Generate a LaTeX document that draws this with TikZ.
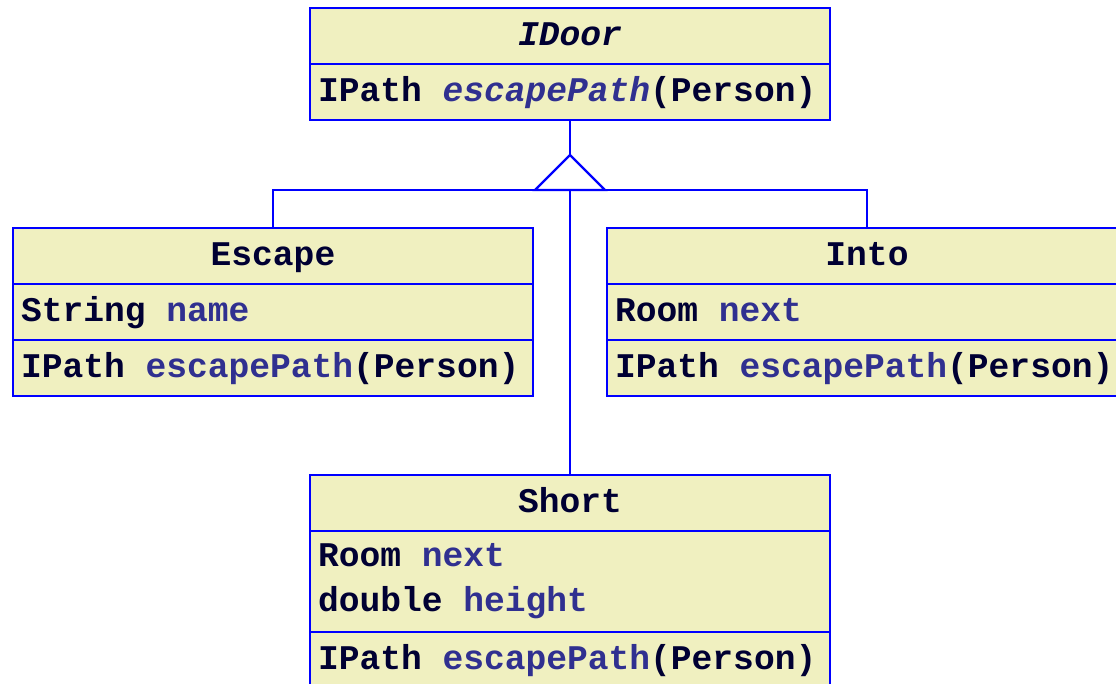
\documentclass[tikz,border=0pt]{standalone}
\usepackage{fontspec}
\setmonofont{Liberation Mono}
\usetikzlibrary{positioning}
\definecolor{umlline}{HTML}{0000FF}
\definecolor{umlfill}{HTML}{F0F0C0}
\definecolor{umltext}{HTML}{000033}
\definecolor{umlname}{HTML}{303090}
\protected\def\umlfont{\ttfamily\bfseries\fontsize{17.3}{22.5}\selectfont\spaceskip=0.6em\relax}
\newcommand{\member}[2]{#1 \textcolor{umlname}{#2}}
\begin{document}
\begin{tikzpicture}[x=0.5pt,y=-0.5pt,
  umlrow/.style={draw=umlline, fill=umlfill, line width=1.2pt, outer sep=0pt,
    minimum height=28pt, text width=252pt, inner xsep=4pt, inner ysep=0pt,
    align=flush left, text=umltext, font=\umlfont},
  classrow/.style={umlrow, text height=13pt, text depth=3pt},
  classname/.style={classrow, align=flush center},
  umledge/.style={draw=umlline, line width=1.1pt}]

  \clip (0,0) rectangle (1116,684);

  % interface
  \node[classname, anchor=north west] (idoor) at (310,8) {\itshape IDoor};
  \node[classrow, below=0pt of idoor] (idoorops) {IPath \textcolor{umlname}{\itshape escapePath}(Person)};

  % Escape
  \node[classname, anchor=north west] (escape) at (13,228) {Escape};
  \node[classrow, below=0pt of escape] (escapeattr) {\member{String}{name}};
  \node[classrow, below=0pt of escapeattr] (escapeops) {\member{IPath}{escapePath}(Person)};

  % Into
  \node[classname, anchor=north west] (into) at (607,228) {Into};
  \node[classrow, below=0pt of into] (intoattr) {\member{Room}{next}};
  \node[classrow, below=0pt of intoattr] (intoops) {\member{IPath}{escapePath}(Person)};

  % Short
  \node[classname, anchor=north west] (short) at (310,475) {Short};
  \node[umlrow, minimum height=50.5pt, below=0pt of short] (shortattr) {\member{Room}{next}\\\member{double}{height}};
  \node[classrow, below=0pt of shortattr] (shortops) {\member{IPath}{escapePath}(Person)};

  % generalization
  \coordinate (apex) at (570,155);
  \coordinate (hub) at (570,190);
  \draw[umledge] (idoorops.south) -- (apex);
  \draw[umledge] (apex) -- ++(-35,35) -- ++(70,0) -- cycle;
  \draw[umledge] (escape.north) |- (hub) -| (into.north);
  \draw[umledge] (hub) -- (short.north);
\end{tikzpicture}
\end{document}
